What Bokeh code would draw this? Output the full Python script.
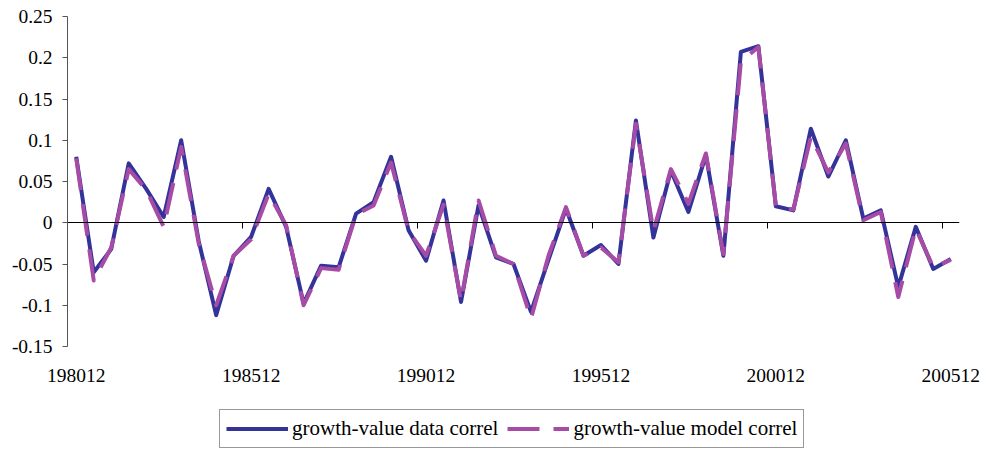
from bokeh.plotting import figure
from bokeh.layouts import column
from bokeh.models import (Range1d, LinearAxis, FixedTicker, CustomJSTickFormatter,
                          Legend, LegendItem, ColumnDataSource)
from bokeh.embed import file_html
from bokeh.resources import INLINE

# ---------------- data ----------------
periods = [
    "198012", "198106", "198112", "198206", "198212", "198306", "198312", "198406", "198412", "198506",
    "198512", "198606", "198612", "198706", "198712", "198806", "198812", "198906", "198912", "199006",
    "199012", "199106", "199112", "199206", "199212", "199306", "199312", "199406", "199412", "199506",
    "199512", "199606", "199612", "199706", "199712", "199806", "199812", "199906", "199912", "200006",
    "200012", "200106", "200112", "200206", "200212", "200306", "200312", "200406", "200412", "200506",
    "200512",
]

data_correl = [
    0.080, -0.060, -0.032, 0.072, 0.041, 0.007, 0.100, -0.022, -0.112, -0.040,
    -0.017, 0.041, -0.005, -0.098, -0.052, -0.054, 0.011, 0.025, 0.080, -0.009,
    -0.046, 0.027, -0.096, 0.021, -0.042, -0.050, -0.108, -0.045, 0.017, -0.040,
    -0.027, -0.050, 0.124, -0.018, 0.063, 0.013, 0.082, -0.040, 0.207, 0.214,
    0.020, 0.015, 0.114, 0.056, 0.100, 0.005, 0.015, -0.078, -0.005, -0.056,
    -0.044,
]

model_correl = [
    0.078, -0.070, -0.030, 0.065, 0.040, -0.005, 0.092, -0.025, -0.100, -0.040,
    -0.020, 0.035, -0.003, -0.100, -0.055, -0.057, 0.010, 0.021, 0.073, -0.010,
    -0.040, 0.022, -0.095, 0.027, -0.040, -0.050, -0.116, -0.040, 0.019, -0.040,
    -0.030, -0.048, 0.120, -0.010, 0.065, 0.023, 0.084, -0.038, 0.195, 0.213,
    0.020, 0.016, 0.104, 0.061, 0.096, 0.003, 0.013, -0.090, -0.007, -0.054,
    -0.045,
]

x_tick_labels = ["198012", "198512", "199012", "199512", "200012", "200512"]
y_ticks = [-0.15, -0.1, -0.05, 0, 0.05, 0.1, 0.15, 0.2, 0.25]
series_names = ["growth-value data correl", "growth-value model correl"]

BLUE = "#333399"
PINK = "#A64CA6"
DASH = "32 14"
FONT = "Liberation Serif"

# ---------------- main figure ----------------
n = len(periods)
idx = list(range(n))
src = ColumnDataSource(dict(x=idx, data=data_correl, model=model_correl))

p = figure(width=988, height=398, output_backend="svg", toolbar_location=None,
           x_range=Range1d(-0.5, n - 0.5), y_range=Range1d(y_ticks[0], y_ticks[-1]),
           x_axis_location=None, y_axis_location=None,
           min_border_left=67, min_border_right=29, min_border_top=16, min_border_bottom=52)
p.outline_line_color = None
p.xgrid.visible = False
p.ygrid.visible = False
p.background_fill_color = "white"
p.border_fill_color = "white"

# y axis
yax = LinearAxis(ticker=FixedTicker(ticks=y_ticks),
                 formatter=CustomJSTickFormatter(code="return parseFloat(tick.toFixed(2)).toString();"))
yax.axis_line_color = "#555555"
yax.major_tick_line_color = "#555555"
yax.major_tick_out = 5
yax.major_tick_in = 0
yax.minor_tick_line_color = None
yax.major_label_standoff = 10
yax.major_label_text_font = FONT
yax.major_label_text_font_size = "19.5px"
yax.major_label_text_color = "black"
p.add_layout(yax, "left")

# x label axis (labels at the bottom)
label_pos = [periods.index(l) for l in x_tick_labels]
xlab = LinearAxis(ticker=FixedTicker(ticks=label_pos),
                  major_label_overrides={pos: lab for pos, lab in zip(label_pos, x_tick_labels)})
xlab.axis_line_color = None
xlab.major_tick_line_color = None
xlab.minor_tick_line_color = None
xlab.major_label_standoff = 16
xlab.major_label_text_font = FONT
xlab.major_label_text_font_size = "19.5px"
xlab.major_label_text_color = "black"
p.add_layout(xlab, "below")

# x axis line crossing at zero, ticks between categories
bounds = [pos - 0.5 for pos in label_pos]
xzero = LinearAxis(ticker=FixedTicker(ticks=bounds), fixed_location=0,
                   formatter=CustomJSTickFormatter(code="return '';"))
xzero.axis_line_color = "black"
xzero.axis_line_width = 1
xzero.major_tick_line_color = "black"
xzero.major_tick_out = 6
xzero.major_tick_in = 0
xzero.minor_tick_line_color = None
xzero.major_label_standoff = 0
p.add_layout(xzero, "below")

p.line("x", "data", source=src, line_color=BLUE, line_width=4, line_join="round")
p.line("x", "model", source=src, line_color=PINK, line_width=4,
       line_dash=DASH, line_join="round")

# ---------------- legend strip ----------------
q = figure(width=988, height=52, output_backend="svg", toolbar_location=None,
           x_range=Range1d(0, 1), y_range=Range1d(0, 1),
           x_axis_location=None, y_axis_location=None,
           min_border_left=0, min_border_right=0, min_border_top=0, min_border_bottom=0)
q.outline_line_color = None
q.xgrid.visible = False
q.ygrid.visible = False
q.background_fill_color = "white"
q.border_fill_color = "white"
# legend key renderers: their samples sit outside the visible range
key_src = ColumnDataSource(dict(x=[5, 6], y=[5, 5]))
k1 = q.line("x", "y", source=key_src, line_color=BLUE, line_width=4)
k2 = q.line("x", "y", source=key_src, line_color=PINK, line_width=4, line_dash=DASH)

legend = Legend(items=[LegendItem(label=series_names[0], renderers=[k1]),
                       LegendItem(label=series_names[1], renderers=[k2])],
                location=(152, 2), orientation="horizontal")
legend.label_text_font = FONT
legend.label_text_font_size = "21px"
legend.label_text_color = "black"
legend.border_line_color = "#333333"
legend.border_line_width = 1
legend.background_fill_color = "white"
legend.background_fill_alpha = 1
legend.padding = 6
legend.spacing = 9
legend.label_standoff = 4
legend.glyph_width = 62
legend.glyph_height = 23
legend.label_height = 23
legend.margin = 0
q.add_layout(legend, "center")

layout = column(p, q, spacing=0)
open("out.html", "w").write(file_html(layout, INLINE))
